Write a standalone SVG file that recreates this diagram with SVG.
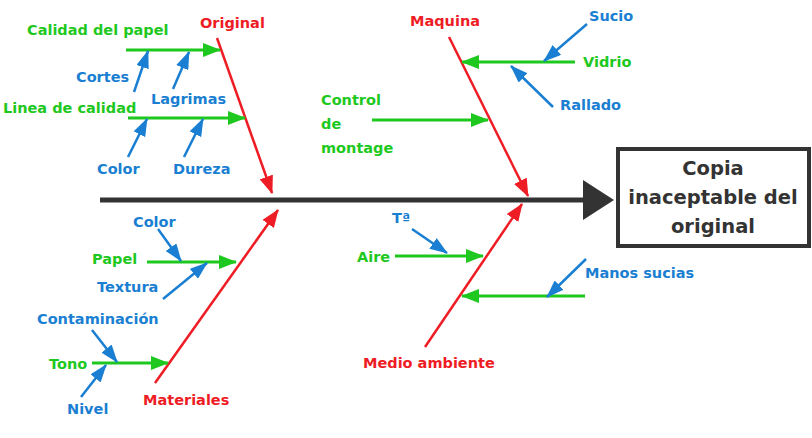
<svg xmlns="http://www.w3.org/2000/svg" width="812" height="438" viewBox="0 0 812 438">
<style>
text{font-family:"DejaVu Sans","Liberation Sans",sans-serif;font-weight:bold;font-size:14.5px}
.g{fill:#1ec81e}.r{fill:#ee1c24}.b{fill:#1a7fd2}
.lg{stroke:#1ec81e;stroke-width:3;fill:none}
.lr{stroke:#ee1c24;stroke-width:2.5;fill:none}
.lb{stroke:#1a7fd2;stroke-width:2.5;fill:none}
.box{fill:#fff;stroke:#333;stroke-width:4}
.bt{fill:#333;font-size:19.5px}
</style>
<defs>
<marker id="ag" viewBox="0 0 18 14" refX="17" refY="7" markerWidth="18" markerHeight="14" markerUnits="userSpaceOnUse" orient="auto"><path d="M0,0 L18,7 L0,14 z" fill="#1ec81e"/></marker>
<marker id="ar" viewBox="0 0 18 14" refX="17" refY="7" markerWidth="18" markerHeight="14" markerUnits="userSpaceOnUse" orient="auto"><path d="M0,0 L18,7 L0,14 z" fill="#ee1c24"/></marker>
<marker id="ab" viewBox="0 0 18 13" refX="17" refY="6.5" markerWidth="18" markerHeight="13" markerUnits="userSpaceOnUse" orient="auto"><path d="M0,0 L18,6.5 L0,13 z" fill="#1a7fd2"/></marker>
</defs>
<g id="connectors">
<line x1="100" y1="200" x2="586" y2="200" stroke="#333" stroke-width="5"/>
<polygon points="583,180 614,200 583,220" fill="#333"/>
<line class="lr" x1="217" y1="38" x2="272" y2="193" marker-end="url(#ar)"/>
<line class="lr" x1="155" y1="383" x2="278" y2="210" marker-end="url(#ar)"/>
<line class="lr" x1="449" y1="37" x2="528" y2="196" marker-end="url(#ar)"/>
<line class="lr" x1="425" y1="347" x2="522" y2="204" marker-end="url(#ar)"/>
<line class="lg" x1="126" y1="50" x2="220" y2="50" marker-end="url(#ag)"/>
<line class="lg" x1="128" y1="118" x2="245" y2="118" marker-end="url(#ag)"/>
<line class="lg" x1="147" y1="262" x2="236" y2="262" marker-end="url(#ag)"/>
<line class="lg" x1="92" y1="363" x2="168" y2="363" marker-end="url(#ag)"/>
<line class="lg" x1="575" y1="62" x2="462" y2="62" marker-end="url(#ag)"/>
<line class="lg" x1="372" y1="120" x2="488" y2="120" marker-end="url(#ag)"/>
<line class="lg" x1="395" y1="256" x2="483" y2="256" marker-end="url(#ag)"/>
<line class="lg" x1="585" y1="296" x2="462" y2="296" marker-end="url(#ag)"/>
<line class="lb" x1="134" y1="92" x2="148" y2="51" marker-end="url(#ab)"/>
<line class="lb" x1="173" y1="89" x2="189" y2="52" marker-end="url(#ab)"/>
<line class="lb" x1="128" y1="157" x2="147" y2="119" marker-end="url(#ab)"/>
<line class="lb" x1="184" y1="157" x2="203" y2="119" marker-end="url(#ab)"/>
<line class="lb" x1="158" y1="229" x2="181" y2="261" marker-end="url(#ab)"/>
<line class="lb" x1="163" y1="299" x2="207" y2="263" marker-end="url(#ab)"/>
<line class="lb" x1="92" y1="330" x2="117" y2="362" marker-end="url(#ab)"/>
<line class="lb" x1="81" y1="397" x2="106" y2="365" marker-end="url(#ab)"/>
<line class="lb" x1="587" y1="24" x2="544" y2="61" marker-end="url(#ab)"/>
<line class="lb" x1="553" y1="107" x2="511" y2="66" marker-end="url(#ab)"/>
<line class="lb" x1="412" y1="229" x2="447" y2="253" marker-end="url(#ab)"/>
<line class="lb" x1="586" y1="259" x2="547" y2="297" marker-end="url(#ab)"/>
</g>
<g id="effect">
<rect class="box" x="618" y="149" width="191" height="97"/>
<text class="bt" x="713" y="175" text-anchor="middle">Copia</text>
<text class="bt" x="713" y="204" text-anchor="middle">inaceptable del</text>
<text class="bt" x="713" y="233" text-anchor="middle">original</text>
</g>
<g id="original"><text class="r" x="200" y="28">Original</text></g>
<g id="materiales"><text class="r" x="143" y="405">Materiales</text></g>
<g id="maquina"><text class="r" x="410" y="26">Maquina</text></g>
<g id="medio-ambiente"><text class="r" x="363" y="368">Medio ambiente</text></g>
<g id="calidad-papel"><text class="g" x="27" y="35">Calidad del papel</text></g>
<g id="linea-calidad"><text class="g" x="3" y="113">Linea de calidad</text></g>
<g id="papel"><text class="g" x="92" y="264">Papel</text></g>
<g id="tono"><text class="g" x="49" y="369">Tono</text></g>
<g id="vidrio"><text class="g" x="583" y="67">Vidrio</text></g>
<g id="control-montage"><text class="g" x="321" y="105">Control</text><text class="g" x="321" y="129">de</text><text class="g" x="321" y="153">montage</text></g>
<g id="aire"><text class="g" x="357" y="262">Aire</text></g>
<g id="cortes"><text class="b" x="76" y="82">Cortes</text></g>
<g id="lagrimas"><text class="b" x="151" y="104">Lagrimas</text></g>
<g id="color-top"><text class="b" x="97" y="174">Color</text></g>
<g id="dureza"><text class="b" x="173" y="174">Dureza</text></g>
<g id="color-bottom"><text class="b" x="133" y="227">Color</text></g>
<g id="textura"><text class="b" x="97" y="292">Textura</text></g>
<g id="contaminacion"><text class="b" x="37" y="324">Contaminación</text></g>
<g id="nivel"><text class="b" x="67" y="414">Nivel</text></g>
<g id="sucio"><text class="b" x="589" y="21">Sucio</text></g>
<g id="rallado"><text class="b" x="560" y="110">Rallado</text></g>
<g id="temperatura"><text class="b" x="392" y="223">Tª</text></g>
<g id="manos-sucias"><text class="b" x="585" y="278">Manos sucias</text></g>
</svg>
